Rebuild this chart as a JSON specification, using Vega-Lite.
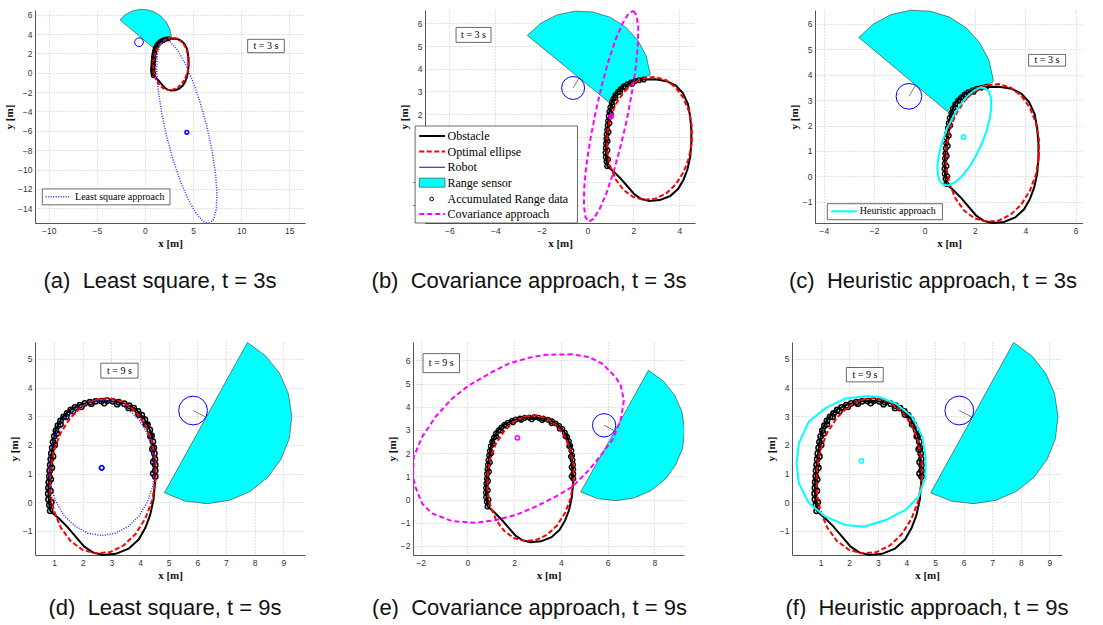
{
"$schema": "https://vega.github.io/schema/vega-lite/v6.json",
"padding": {"left": 3, "top": 8, "right": 0, "bottom": 0},
"background": "white",
"config": {
 "view": {"stroke": null},
 "axis": {"labelFont": "Liberation Sans", "labelFontSize": 8.5, "labelColor": "#333333", "titleFont": "Liberation Serif", "titleFontSize": 11, "titleFontWeight": "bold", "titleColor": "#111111", "grid": true, "gridColor": "#c4c4c4", "gridDash": [1, 2], "gridWidth": 1, "domainColor": "#555555", "ticks": false, "labelPadding": 3, "titlePadding": 3},
 "title": {"orient": "bottom", "font": "Liberation Sans", "fontSize": 22, "fontWeight": "normal", "color": "#111111", "offset": 22, "anchor": "middle"}
},
"datasets": {
 "obs": [{"i":0,"x":0.85,"y":-0.28},{"i":1,"x":0.80,"y":0.20},{"i":2,"x":0.80,"y":0.60},{"i":3,"x":0.84,"y":1.10},{"i":4,"x":0.90,"y":1.60},{"i":5,"x":0.96,"y":2.10},{"i":6,"x":1.06,"y":2.55},{"i":7,"x":1.25,"y":2.92},{"i":8,"x":1.55,"y":3.22},{"i":9,"x":1.95,"y":3.42},{"i":10,"x":2.45,"y":3.52},{"i":11,"x":2.95,"y":3.53},{"i":12,"x":3.45,"y":3.45},{"i":13,"x":3.85,"y":3.25},{"i":14,"x":4.15,"y":2.92},{"i":15,"x":4.37,"y":2.45},{"i":16,"x":4.47,"y":1.90},{"i":17,"x":4.52,"y":1.30},{"i":18,"x":4.52,"y":0.70},{"i":19,"x":4.47,"y":0.10},{"i":20,"x":4.35,"y":-0.45},{"i":21,"x":4.18,"y":-0.90},{"i":22,"x":3.95,"y":-1.30},{"i":23,"x":3.60,"y":-1.62},{"i":24,"x":3.15,"y":-1.80},{"i":25,"x":2.70,"y":-1.84},{"i":26,"x":2.35,"y":-1.75},{"i":27,"x":2.05,"y":-1.55},{"i":28,"x":1.75,"y":-1.20},{"i":29,"x":1.45,"y":-0.85},{"i":30,"x":1.15,"y":-0.55},{"i":31,"x":0.95,"y":-0.38},{"i":32,"x":0.85,"y":-0.28}],
 "opt": [{"i":0,"x":4.54,"y":0.76},{"i":1,"x":4.54,"y":1.47},{"i":2,"x":4.41,"y":2.14},{"i":3,"x":4.17,"y":2.72},{"i":4,"x":3.83,"y":3.18},{"i":5,"x":3.41,"y":3.50},{"i":6,"x":2.94,"y":3.63},{"i":7,"x":2.45,"y":3.58},{"i":8,"x":1.98,"y":3.35},{"i":9,"x":1.57,"y":2.95},{"i":10,"x":1.22,"y":2.41},{"i":11,"x":0.98,"y":1.78},{"i":12,"x":0.86,"y":1.08},{"i":13,"x":0.86,"y":0.37},{"i":14,"x":0.99,"y":-0.30},{"i":15,"x":1.23,"y":-0.88},{"i":16,"x":1.57,"y":-1.35},{"i":17,"x":1.99,"y":-1.66},{"i":18,"x":2.46,"y":-1.79},{"i":19,"x":2.95,"y":-1.74},{"i":20,"x":3.42,"y":-1.51},{"i":21,"x":3.84,"y":-1.11},{"i":22,"x":4.18,"y":-0.57},{"i":23,"x":4.42,"y":0.06},{"i":24,"x":4.54,"y":0.76}],
 "acc": [{"t":3,"x":0.86,"y":-0.30},{"t":3,"x":0.83,"y":-0.10},{"t":3,"x":0.80,"y":0.10},{"t":3,"x":0.79,"y":0.30},{"t":3,"x":0.80,"y":0.50},{"t":3,"x":0.81,"y":0.70},{"t":3,"x":0.83,"y":0.90},{"t":3,"x":0.84,"y":1.10},{"t":3,"x":0.86,"y":1.30},{"t":3,"x":0.88,"y":1.50},{"t":3,"x":0.90,"y":1.70},{"t":3,"x":0.93,"y":1.90},{"t":3,"x":0.96,"y":2.10},{"t":3,"x":1.00,"y":2.30},{"t":3,"x":1.06,"y":2.50},{"t":3,"x":1.13,"y":2.67},{"t":3,"x":1.22,"y":2.84},{"t":3,"x":1.33,"y":2.98},{"t":3,"x":1.45,"y":3.10},{"t":3,"x":1.58,"y":3.22},{"t":3,"x":1.73,"y":3.31},{"t":3,"x":1.90,"y":3.39},{"t":3,"x":2.07,"y":3.45},{"t":3,"x":2.25,"y":3.49},{"t":3,"x":2.45,"y":3.52},
  {"t":3,"x":0.90,"y":0.00},{"t":3,"x":0.87,"y":0.40},{"t":3,"x":0.88,"y":0.80},{"t":3,"x":0.92,"y":1.20},{"t":3,"x":0.96,"y":1.60},{"t":3,"x":1.02,"y":2.00},{"t":3,"x":1.09,"y":2.40},{"t":3,"x":1.22,"y":2.72},{"t":3,"x":1.42,"y":2.98},{"t":3,"x":1.66,"y":3.18},{"t":3,"x":1.95,"y":3.33},
  {"t":9,"x":2.65,"y":3.53},{"t":9,"x":2.85,"y":3.54},{"t":9,"x":3.05,"y":3.52},{"t":9,"x":3.25,"y":3.49},{"t":9,"x":3.45,"y":3.44},{"t":9,"x":3.62,"y":3.37},{"t":9,"x":3.78,"y":3.28},{"t":9,"x":3.93,"y":3.17},{"t":9,"x":4.06,"y":3.04},{"t":9,"x":4.17,"y":2.88},{"t":9,"x":4.26,"y":2.71},{"t":9,"x":4.34,"y":2.52},{"t":9,"x":4.40,"y":2.32},{"t":9,"x":4.45,"y":2.11},{"t":9,"x":4.48,"y":1.90},{"t":9,"x":4.50,"y":1.70},{"t":9,"x":4.52,"y":1.50},{"t":9,"x":4.53,"y":1.30},{"t":9,"x":4.53,"y":1.10},{"t":9,"x":4.53,"y":0.90},
  {"t":9,"x":2.30,"y":3.44},{"t":9,"x":2.75,"y":3.46},{"t":9,"x":3.20,"y":3.42},{"t":9,"x":3.60,"y":3.29},{"t":9,"x":3.95,"y":3.06},{"t":9,"x":4.20,"y":2.72},{"t":9,"x":4.36,"y":2.30},{"t":9,"x":4.43,"y":1.85},{"t":9,"x":4.46,"y":1.40},{"t":9,"x":4.46,"y":1.00}],
 "sens3": [{"i":0,"x":-2.61,"y":5.47},{"i":1,"x":-2.03,"y":6.00},{"i":2,"x":-1.33,"y":6.37},{"i":3,"x":-0.55,"y":6.54},{"i":4,"x":0.24,"y":6.50},{"i":5,"x":0.99,"y":6.27},{"i":6,"x":1.66,"y":5.84},{"i":7,"x":2.19,"y":5.26},{"i":8,"x":2.56,"y":4.56},{"i":9,"x":2.73,"y":3.78},{"i":10,"x":2.70,"y":3.70},{"i":11,"x":2.20,"y":3.55},{"i":12,"x":1.60,"y":3.25},{"i":13,"x":1.20,"y":2.90},{"i":14,"x":0.90,"y":2.55},{"i":15,"x":-2.61,"y":5.47}],
 "sens9": [{"i":0,"x":4.85,"y":0.33},{"i":1,"x":7.75,"y":5.57},{"i":2,"x":8.38,"y":5.11},{"i":3,"x":8.87,"y":4.50},{"i":4,"x":9.18,"y":3.78},{"i":5,"x":9.30,"y":3.00},{"i":6,"x":9.21,"y":2.22},{"i":7,"x":8.92,"y":1.50},{"i":8,"x":8.46,"y":0.87},{"i":9,"x":7.85,"y":0.38},{"i":10,"x":7.13,"y":0.07},{"i":11,"x":6.35,"y":-0.05},{"i":12,"x":5.57,"y":0.04},{"i":13,"x":4.85,"y":0.33}],
 "appr": [
  {"p":"a","i":0,"x":6.69,"y":-15.57},{"p":"a","i":1,"x":7.15,"y":-15.11},{"p":"a","i":2,"x":7.42,"y":-14.04},{"p":"a","i":3,"x":7.48,"y":-12.43},{"p":"a","i":4,"x":7.33,"y":-10.39},{"p":"a","i":5,"x":6.97,"y":-8.05},{"p":"a","i":6,"x":6.44,"y":-5.58},{"p":"a","i":7,"x":5.76,"y":-3.15},{"p":"a","i":8,"x":4.99,"y":-0.92},{"p":"a","i":9,"x":4.17,"y":0.96},{"p":"a","i":10,"x":3.37,"y":2.36},{"p":"a","i":11,"x":2.63,"y":3.18},{"p":"a","i":12,"x":2.01,"y":3.37},{"p":"a","i":13,"x":1.55,"y":2.91},{"p":"a","i":14,"x":1.28,"y":1.84},{"p":"a","i":15,"x":1.22,"y":0.23},{"p":"a","i":16,"x":1.37,"y":-1.81},{"p":"a","i":17,"x":1.73,"y":-4.15},{"p":"a","i":18,"x":2.26,"y":-6.62},{"p":"a","i":19,"x":2.94,"y":-9.05},{"p":"a","i":20,"x":3.71,"y":-11.28},{"p":"a","i":21,"x":4.53,"y":-13.16},{"p":"a","i":22,"x":5.33,"y":-14.56},{"p":"a","i":23,"x":6.07,"y":-15.38},{"p":"a","i":24,"x":6.69,"y":-15.57},
  {"p":"b","i":0,"x":2.00,"y":6.55},{"p":"b","i":1,"x":2.14,"y":6.36},{"p":"b","i":2,"x":2.21,"y":5.86},{"p":"b","i":3,"x":2.20,"y":5.09},{"p":"b","i":4,"x":2.11,"y":4.10},{"p":"b","i":5,"x":1.94,"y":2.97},{"p":"b","i":6,"x":1.72,"y":1.76},{"p":"b","i":7,"x":1.44,"y":0.56},{"p":"b","i":8,"x":1.14,"y":-0.55},{"p":"b","i":9,"x":0.83,"y":-1.49},{"p":"b","i":10,"x":0.53,"y":-2.20},{"p":"b","i":11,"x":0.27,"y":-2.63},{"p":"b","i":12,"x":0.06,"y":-2.75},{"p":"b","i":13,"x":-0.08,"y":-2.56},{"p":"b","i":14,"x":-0.15,"y":-2.06},{"p":"b","i":15,"x":-0.14,"y":-1.29},{"p":"b","i":16,"x":-0.05,"y":-0.30},{"p":"b","i":17,"x":0.12,"y":0.83},{"p":"b","i":18,"x":0.35,"y":2.04},{"p":"b","i":19,"x":0.62,"y":3.24},{"p":"b","i":20,"x":0.92,"y":4.35},{"p":"b","i":21,"x":1.23,"y":5.29},{"p":"b","i":22,"x":1.53,"y":6.00},{"p":"b","i":23,"x":1.79,"y":6.43},{"p":"b","i":24,"x":2.00,"y":6.55},
  {"p":"c","i":0,"x":2.40,"y":3.48},{"p":"c","i":1,"x":2.55,"y":3.34},{"p":"c","i":2,"x":2.64,"y":3.08},{"p":"c","i":3,"x":2.65,"y":2.71},{"p":"c","i":4,"x":2.59,"y":2.27},{"p":"c","i":5,"x":2.46,"y":1.78},{"p":"c","i":6,"x":2.27,"y":1.27},{"p":"c","i":7,"x":2.03,"y":0.79},{"p":"c","i":8,"x":1.77,"y":0.36},{"p":"c","i":9,"x":1.49,"y":0.01},{"p":"c","i":10,"x":1.22,"y":-0.23},{"p":"c","i":11,"x":0.97,"y":-0.35},{"p":"c","i":12,"x":0.76,"y":-0.34},{"p":"c","i":13,"x":0.61,"y":-0.20},{"p":"c","i":14,"x":0.53,"y":0.06},{"p":"c","i":15,"x":0.51,"y":0.43},{"p":"c","i":16,"x":0.57,"y":0.87},{"p":"c","i":17,"x":0.70,"y":1.36},{"p":"c","i":18,"x":0.89,"y":1.87},{"p":"c","i":19,"x":1.13,"y":2.35},{"p":"c","i":20,"x":1.39,"y":2.78},{"p":"c","i":21,"x":1.67,"y":3.13},{"p":"c","i":22,"x":1.95,"y":3.37},{"p":"c","i":23,"x":2.19,"y":3.49},{"p":"c","i":24,"x":2.40,"y":3.48},
  {"p":"d","i":0,"x":4.51,"y":1.20},{"p":"d","i":1,"x":4.45,"y":1.81},{"p":"d","i":2,"x":4.26,"y":2.38},{"p":"d","i":3,"x":3.97,"y":2.87},{"p":"d","i":4,"x":3.59,"y":3.24},{"p":"d","i":5,"x":3.14,"y":3.48},{"p":"d","i":6,"x":2.66,"y":3.56},{"p":"d","i":7,"x":2.18,"y":3.48},{"p":"d","i":8,"x":1.74,"y":3.24},{"p":"d","i":9,"x":1.35,"y":2.87},{"p":"d","i":10,"x":1.06,"y":2.38},{"p":"d","i":11,"x":0.87,"y":1.81},{"p":"d","i":12,"x":0.81,"y":1.20},{"p":"d","i":13,"x":0.87,"y":0.59},{"p":"d","i":14,"x":1.06,"y":0.02},{"p":"d","i":15,"x":1.35,"y":-0.47},{"p":"d","i":16,"x":1.74,"y":-0.84},{"p":"d","i":17,"x":2.18,"y":-1.08},{"p":"d","i":18,"x":2.66,"y":-1.16},{"p":"d","i":19,"x":3.14,"y":-1.08},{"p":"d","i":20,"x":3.59,"y":-0.84},{"p":"d","i":21,"x":3.97,"y":-0.47},{"p":"d","i":22,"x":4.26,"y":0.02},{"p":"d","i":23,"x":4.45,"y":0.59},{"p":"d","i":24,"x":4.51,"y":1.20},
  {"p":"e","i":0,"x":4.49,"y":6.26},{"p":"e","i":1,"x":3.34,"y":6.24},{"p":"e","i":2,"x":2.63,"y":6.11},{"p":"e","i":3,"x":1.77,"y":5.86},{"p":"e","i":4,"x":1.06,"y":5.50},{"p":"e","i":5,"x":0.06,"y":4.92},{"p":"e","i":6,"x":-0.66,"y":4.35},{"p":"e","i":7,"x":-1.37,"y":3.56},{"p":"e","i":8,"x":-1.94,"y":2.70},{"p":"e","i":9,"x":-2.30,"y":1.84},{"p":"e","i":10,"x":-2.33,"y":0.98},{"p":"e","i":11,"x":-2.23,"y":0.55},{"p":"e","i":12,"x":-1.94,"y":-0.17},{"p":"e","i":13,"x":-1.51,"y":-0.60},{"p":"e","i":14,"x":-0.66,"y":-0.93},{"p":"e","i":15,"x":0.34,"y":-1.00},{"p":"e","i":16,"x":1.20,"y":-0.89},{"p":"e","i":17,"x":2.06,"y":-0.67},{"p":"e","i":18,"x":2.91,"y":-0.31},{"p":"e","i":19,"x":3.77,"y":0.12},{"p":"e","i":20,"x":4.49,"y":0.55},{"p":"e","i":21,"x":5.20,"y":1.27},{"p":"e","i":22,"x":5.77,"y":1.98},{"p":"e","i":23,"x":6.20,"y":2.56},{"p":"e","i":24,"x":6.56,"y":3.42},{"p":"e","i":25,"x":6.70,"y":4.28},{"p":"e","i":26,"x":6.56,"y":4.92},{"p":"e","i":27,"x":6.34,"y":5.28},{"p":"e","i":28,"x":5.77,"y":5.86},{"p":"e","i":29,"x":5.20,"y":6.14},{"p":"e","i":30,"x":4.49,"y":6.26},
  {"p":"f","i":0,"x":2.57,"y":3.70},{"p":"f","i":1,"x":1.87,"y":3.62},{"p":"f","i":2,"x":1.17,"y":3.28},{"p":"f","i":3,"x":0.59,"y":2.81},{"p":"f","i":4,"x":0.24,"y":2.06},{"p":"f","i":5,"x":0.16,"y":1.36},{"p":"f","i":6,"x":0.24,"y":0.66},{"p":"f","i":7,"x":0.59,"y":-0.03},{"p":"f","i":8,"x":1.17,"y":-0.50},{"p":"f","i":9,"x":1.87,"y":-0.79},{"p":"f","i":10,"x":2.51,"y":-0.85},{"p":"f","i":11,"x":3.27,"y":-0.62},{"p":"f","i":12,"x":3.97,"y":-0.27},{"p":"f","i":13,"x":4.43,"y":0.20},{"p":"f","i":14,"x":4.67,"y":0.89},{"p":"f","i":15,"x":4.67,"y":1.59},{"p":"f","i":16,"x":4.55,"y":2.29},{"p":"f","i":17,"x":4.20,"y":2.98},{"p":"f","i":18,"x":3.62,"y":3.45},{"p":"f","i":19,"x":3.04,"y":3.68},{"p":"f","i":20,"x":2.57,"y":3.70}
 ]
},
"vconcat": [
 {"hconcat": [
  {"width": 270, "height": 213,
   "title": {"text": "(a)\u00a0 Least square, t = 3s", "dx": -10},
   "encoding": {
    "x": {"field": "x", "type": "quantitative", "scale": {"domain": [-11.43, 16.63], "nice": false, "zero": false}, "axis": {"values": [-10, -5, 0, 5, 10, 15], "title": "x [m]"}},
    "y": {"field": "y", "type": "quantitative", "scale": {"domain": [-15.52, 6.48], "nice": false, "zero": false}, "axis": {"values": [-14, -12, -10, -8, -6, -4, -2, 0, 2, 4, 6], "title": "y [m]"}}
   },
   "layer": [
    {"data": {"name": "sens3"}, "mark": {"type": "line", "fill": "#00FFFF", "stroke": "#333333", "strokeWidth": 0.6}, "encoding": {"order": {"field": "i", "type": "quantitative"}}},
    {"data": {"name": "obs"}, "mark": {"type": "line", "color": "#000000", "strokeWidth": 2}, "encoding": {"order": {"field": "i", "type": "quantitative"}}},
    {"data": {"name": "acc"}, "transform": [{"filter": "datum.t <= 3"}], "mark": {"type": "point", "shape": "circle", "filled": false, "color": "#000000", "size": 14, "strokeWidth": 1.2, "opacity": 1}},
    {"data": {"name": "opt"}, "mark": {"type": "line", "color": "#FF0000", "strokeWidth": 2, "strokeDash": [4, 2]}, "encoding": {"order": {"field": "i", "type": "quantitative"}}},
    {"data": {"name": "appr"}, "transform": [{"filter": "datum.p == 'a'"}], "mark": {"type": "line", "color": "#3030FF", "strokeWidth": 1.5, "strokeDash": [1, 1.5], "clip": true}, "encoding": {"order": {"field": "i", "type": "quantitative"}}},
    {"data": {"values": [{"x": 4.35, "y": -6.15}]}, "mark": {"type": "point", "shape": "circle", "filled": false, "color": "#0000FF", "size": 14, "strokeWidth": 1.5, "opacity": 1}},
    {"data": {"values": [{"x": -0.62, "y": 3.15}]}, "mark": {"type": "point", "shape": "circle", "filled": false, "color": "#0000FF", "size": 75, "strokeWidth": 1, "opacity": 1}},
    {"data": {"values": [{"x": 10.67, "xe": 14.48, "y": 2.07, "ye": 3.45}]}, "mark": {"type": "rect", "fill": "white", "stroke": "#444444", "strokeWidth": 0.8}, "encoding": {"x2": {"field": "xe"}, "y2": {"field": "ye"}}},
    {"data": {"values": [{"x": 12.57, "y": 2.76, "label": "t = 3 s"}]}, "mark": {"type": "text", "font": "Liberation Serif", "fontSize": 10, "color": "#000000"}, "encoding": {"text": {"field": "label"}}},
    {"data": {"values": [{"x": -10.67, "xe": 2.6, "y": -12.0, "ye": -13.64}]}, "mark": {"type": "rect", "fill": "white", "stroke": "#444444", "strokeWidth": 0.8}, "encoding": {"x2": {"field": "xe"}, "y2": {"field": "ye"}}},
    {"data": {"values": [{"x": -10.32, "xe": -7.72, "y": -12.81}]}, "mark": {"type": "rule", "color": "#3030FF", "strokeWidth": 1.5, "strokeDash": [1, 1.5]}, "encoding": {"x2": {"field": "xe"}}},
    {"data": {"values": [{"x": -7.27, "y": -12.81, "label": "Least square approach"}]}, "mark": {"type": "text", "font": "Liberation Serif", "fontSize": 10, "align": "left", "color": "#000000"}, "encoding": {"text": {"field": "label"}}}
   ]
  },
  {"width": 270, "height": 213,
   "title": {"text": "(b)\u00a0 Covariance approach, t = 3s", "dx": -31},
   "encoding": {
    "x": {"field": "x", "type": "quantitative", "scale": {"domain": [-7.06, 4.68], "nice": false, "zero": false}, "axis": {"values": [-6, -4, -2, 0, 2, 4], "title": "x [m]"}},
    "y": {"field": "y", "type": "quantitative", "scale": {"domain": [-2.81, 6.59], "nice": false, "zero": false}, "axis": {"values": [-2, -1, 0, 1, 2, 3, 4, 5, 6], "title": "y [m]"}}
   },
   "layer": [
    {"data": {"name": "sens3"}, "mark": {"type": "line", "fill": "#00FFFF", "stroke": "#333333", "strokeWidth": 0.6}, "encoding": {"order": {"field": "i", "type": "quantitative"}}},
    {"data": {"name": "obs"}, "mark": {"type": "line", "color": "#000000", "strokeWidth": 2}, "encoding": {"order": {"field": "i", "type": "quantitative"}}},
    {"data": {"name": "acc"}, "transform": [{"filter": "datum.t <= 3"}], "mark": {"type": "point", "shape": "circle", "filled": false, "color": "#000000", "size": 22, "strokeWidth": 1.4, "opacity": 1}},
    {"data": {"name": "opt"}, "mark": {"type": "line", "color": "#FF0000", "strokeWidth": 2, "strokeDash": [5, 2.5]}, "encoding": {"order": {"field": "i", "type": "quantitative"}}},
    {"data": {"name": "appr"}, "transform": [{"filter": "datum.p == 'b'"}], "mark": {"type": "line", "color": "#FF00FF", "strokeWidth": 2, "strokeDash": [5, 3], "clip": true}, "encoding": {"order": {"field": "i", "type": "quantitative"}}},
    {"data": {"values": [{"x": 1.03, "y": 1.88}]}, "mark": {"type": "point", "shape": "circle", "filled": false, "color": "#FF00FF", "size": 18, "strokeWidth": 1.5, "opacity": 1}},
    {"data": {"values": [{"x": -0.62, "y": 3.15}]}, "mark": {"type": "point", "shape": "circle", "filled": false, "color": "#0000FF", "size": 530, "strokeWidth": 1, "opacity": 1}},
    {"data": {"values": [{"x": -0.62, "y": 3.15, "xe": -0.35, "ye": 3.6}]}, "mark": {"type": "rule", "color": "#555555", "strokeWidth": 0.8}, "encoding": {"x2": {"field": "xe"}, "y2": {"field": "ye"}}},
    {"data": {"values": [{"x": -5.71, "xe": -4.19, "y": 5.16, "ye": 5.82}]}, "mark": {"type": "rect", "fill": "white", "stroke": "#444444", "strokeWidth": 0.8}, "encoding": {"x2": {"field": "xe"}, "y2": {"field": "ye"}}},
    {"data": {"values": [{"x": -4.95, "y": 5.49, "label": "t = 3 s"}]}, "mark": {"type": "text", "font": "Liberation Serif", "fontSize": 10, "color": "#000000"}, "encoding": {"text": {"field": "label"}}},
    {"data": {"values": [{"x": -7.49, "xe": -0.43, "y": -2.81, "ye": 1.47}]}, "mark": {"type": "rect", "fill": "white", "stroke": "#444444", "strokeWidth": 0.8, "clip": false}, "encoding": {"x2": {"field": "xe"}, "y2": {"field": "ye"}}},
    {"data": {"values": [{"x": -7.31, "xe": -6.19, "y": 1.03}]}, "mark": {"type": "rule", "color": "#000000", "strokeWidth": 2}, "encoding": {"x2": {"field": "xe"}}},
    {"data": {"values": [{"x": -7.31, "xe": -6.19, "y": 0.34}]}, "mark": {"type": "rule", "color": "#FF0000", "strokeWidth": 2, "strokeDash": [5, 2.5]}, "encoding": {"x2": {"field": "xe"}}},
    {"data": {"values": [{"x": -7.31, "xe": -6.19, "y": -0.35}]}, "mark": {"type": "rule", "color": "#0000FF", "strokeWidth": 1}, "encoding": {"x2": {"field": "xe"}}},
    {"data": {"values": [{"x": -7.31, "xe": -6.19, "y": -1.23, "ye": -0.83}]}, "mark": {"type": "rect", "fill": "#00FFFF", "stroke": "#333333", "strokeWidth": 0.6}, "encoding": {"x2": {"field": "xe"}, "y2": {"field": "ye"}}},
    {"data": {"values": [{"x": -6.77, "y": -1.75}]}, "mark": {"type": "point", "shape": "circle", "filled": false, "color": "#000000", "size": 14, "strokeWidth": 1, "opacity": 1}},
    {"data": {"values": [{"x": -7.31, "xe": -6.19, "y": -2.41}]}, "mark": {"type": "rule", "color": "#FF00FF", "strokeWidth": 2, "strokeDash": [5, 3]}, "encoding": {"x2": {"field": "xe"}}},
    {"data": {"values": [{"x": -6.08, "y": 1.03, "label": "Obstacle"}, {"x": -6.08, "y": 0.34, "label": "Optimal ellipse"}, {"x": -6.08, "y": -0.35, "label": "Robot"}, {"x": -6.08, "y": -1.03, "label": "Range sensor"}, {"x": -6.08, "y": -1.75, "label": "Accumulated Range data"}, {"x": -6.08, "y": -2.41, "label": "Covariance approach"}]}, "mark": {"type": "text", "font": "Liberation Serif", "fontSize": 12, "align": "left", "color": "#000000"}, "encoding": {"text": {"field": "label"}}}
   ]
  },
  {"width": 268, "height": 213,
   "title": {"text": "(c)\u00a0 Heuristic approach, t = 3s", "dx": -16},
   "encoding": {
    "x": {"field": "x", "type": "quantitative", "scale": {"domain": [-4.35, 6.29], "nice": false, "zero": false}, "axis": {"values": [-4, -2, 0, 2, 4, 6], "title": "x [m]"}},
    "y": {"field": "y", "type": "quantitative", "scale": {"domain": [-1.84, 6.55], "nice": false, "zero": false}, "axis": {"values": [-1, 0, 1, 2, 3, 4, 5, 6], "title": "y [m]"}}
   },
   "layer": [
    {"data": {"name": "sens3"}, "mark": {"type": "line", "fill": "#00FFFF", "stroke": "#333333", "strokeWidth": 0.6}, "encoding": {"order": {"field": "i", "type": "quantitative"}}},
    {"data": {"name": "obs"}, "mark": {"type": "line", "color": "#000000", "strokeWidth": 2}, "encoding": {"order": {"field": "i", "type": "quantitative"}}},
    {"data": {"name": "acc"}, "transform": [{"filter": "datum.t <= 3"}], "mark": {"type": "point", "shape": "circle", "filled": false, "color": "#000000", "size": 22, "strokeWidth": 1.4, "opacity": 1}},
    {"data": {"name": "opt"}, "mark": {"type": "line", "color": "#FF0000", "strokeWidth": 2, "strokeDash": [5, 2.5]}, "encoding": {"order": {"field": "i", "type": "quantitative"}}},
    {"data": {"name": "appr"}, "transform": [{"filter": "datum.p == 'c'"}], "mark": {"type": "line", "color": "#00FFFF", "strokeWidth": 2, "clip": true}, "encoding": {"order": {"field": "i", "type": "quantitative"}}},
    {"data": {"values": [{"x": 1.55, "y": 1.55}]}, "mark": {"type": "point", "shape": "circle", "filled": false, "color": "#00FFFF", "size": 18, "strokeWidth": 1.5, "opacity": 1}},
    {"data": {"values": [{"x": -0.62, "y": 3.15}]}, "mark": {"type": "point", "shape": "circle", "filled": false, "color": "#0000FF", "size": 660, "strokeWidth": 1, "opacity": 1}},
    {"data": {"values": [{"x": -0.62, "y": 3.15, "xe": -0.35, "ye": 3.6}]}, "mark": {"type": "rule", "color": "#555555", "strokeWidth": 0.8}, "encoding": {"x2": {"field": "xe"}, "y2": {"field": "ye"}}},
    {"data": {"values": [{"x": 4.13, "xe": 5.6, "y": 4.34, "ye": 4.8}]}, "mark": {"type": "rect", "fill": "white", "stroke": "#444444", "strokeWidth": 0.8}, "encoding": {"x2": {"field": "xe"}, "y2": {"field": "ye"}}},
    {"data": {"values": [{"x": 4.86, "y": 4.57, "label": "t = 3 s"}]}, "mark": {"type": "text", "font": "Liberation Serif", "fontSize": 10, "color": "#000000"}, "encoding": {"text": {"field": "label"}}},
    {"data": {"values": [{"x": -3.86, "xe": 0.71, "y": -1.71, "ye": -1.08}]}, "mark": {"type": "rect", "fill": "white", "stroke": "#444444", "strokeWidth": 0.8}, "encoding": {"x2": {"field": "xe"}, "y2": {"field": "ye"}}},
    {"data": {"values": [{"x": -3.71, "xe": -2.68, "y": -1.38}]}, "mark": {"type": "rule", "color": "#00FFFF", "strokeWidth": 2}, "encoding": {"x2": {"field": "xe"}}},
    {"data": {"values": [{"x": -2.57, "y": -1.38, "label": "Heuristic approach"}]}, "mark": {"type": "text", "font": "Liberation Serif", "fontSize": 10, "align": "left", "color": "#000000"}, "encoding": {"text": {"field": "label"}}}
   ]
  }
 ], "spacing": 120, "bounds": "flush"},
 {"hconcat": [
  {"width": 270, "height": 213,
   "title": {"text": "(d)\u00a0 Least square, t = 9s", "dx": -5, "offset": 17},
   "encoding": {
    "x": {"field": "x", "type": "quantitative", "scale": {"domain": [0.33, 9.76], "nice": false, "zero": false}, "axis": {"values": [1, 2, 3, 4, 5, 6, 7, 8, 9], "title": "x [m]"}},
    "y": {"field": "y", "type": "quantitative", "scale": {"domain": [-1.84, 5.59], "nice": false, "zero": false}, "axis": {"values": [-1, 0, 1, 2, 3, 4, 5], "title": "y [m]"}}
   },
   "layer": [
    {"data": {"name": "sens9"}, "mark": {"type": "line", "fill": "#00FFFF", "stroke": "#333333", "strokeWidth": 0.6, "clip": true}, "encoding": {"order": {"field": "i", "type": "quantitative"}}},
    {"data": {"name": "obs"}, "mark": {"type": "line", "color": "#000000", "strokeWidth": 2}, "encoding": {"order": {"field": "i", "type": "quantitative"}}},
    {"data": {"name": "acc"}, "mark": {"type": "point", "shape": "circle", "filled": false, "color": "#000000", "size": 28, "strokeWidth": 1.5, "opacity": 1}},
    {"data": {"name": "opt"}, "mark": {"type": "line", "color": "#FF0000", "strokeWidth": 2, "strokeDash": [5, 2.5]}, "encoding": {"order": {"field": "i", "type": "quantitative"}}},
    {"data": {"name": "appr"}, "transform": [{"filter": "datum.p == 'd'"}], "mark": {"type": "line", "color": "#3030FF", "strokeWidth": 1.5, "strokeDash": [1, 1.5], "clip": true}, "encoding": {"order": {"field": "i", "type": "quantitative"}}},
    {"data": {"values": [{"x": 2.66, "y": 1.2}]}, "mark": {"type": "point", "shape": "circle", "filled": false, "color": "#0000FF", "size": 20, "strokeWidth": 1.8, "opacity": 1}},
    {"data": {"values": [{"x": 5.85, "y": 3.2}]}, "mark": {"type": "point", "shape": "circle", "filled": false, "color": "#0000FF", "size": 830, "strokeWidth": 1, "opacity": 1}},
    {"data": {"values": [{"x": 5.85, "y": 3.2, "xe": 6.3, "ye": 2.97}]}, "mark": {"type": "rule", "color": "#555555", "strokeWidth": 0.8}, "encoding": {"x2": {"field": "xe"}, "y2": {"field": "ye"}}},
    {"data": {"values": [{"x": 2.63, "xe": 3.93, "y": 4.33, "ye": 4.85}]}, "mark": {"type": "rect", "fill": "white", "stroke": "#444444", "strokeWidth": 0.8}, "encoding": {"x2": {"field": "xe"}, "y2": {"field": "ye"}}},
    {"data": {"values": [{"x": 3.28, "y": 4.59, "label": "t = 9 s"}]}, "mark": {"type": "text", "font": "Liberation Serif", "fontSize": 10, "color": "#000000"}, "encoding": {"text": {"field": "label"}}}
   ]
  },
  {"width": 271, "height": 213,
   "title": {"text": "(e)\u00a0 Covariance approach, t = 9s", "dx": -19, "offset": 17},
   "encoding": {
    "x": {"field": "x", "type": "quantitative", "scale": {"domain": [-2.33, 9.27], "nice": false, "zero": false}, "axis": {"values": [-2, 0, 2, 4, 6, 8], "title": "x [m]"}},
    "y": {"field": "y", "type": "quantitative", "scale": {"domain": [-2.39, 6.79], "nice": false, "zero": false}, "axis": {"values": [-2, -1, 0, 1, 2, 3, 4, 5, 6], "title": "y [m]"}}
   },
   "layer": [
    {"data": {"name": "sens9"}, "mark": {"type": "line", "fill": "#00FFFF", "stroke": "#333333", "strokeWidth": 0.6, "clip": true}, "encoding": {"order": {"field": "i", "type": "quantitative"}}},
    {"data": {"name": "obs"}, "mark": {"type": "line", "color": "#000000", "strokeWidth": 2}, "encoding": {"order": {"field": "i", "type": "quantitative"}}},
    {"data": {"name": "acc"}, "mark": {"type": "point", "shape": "circle", "filled": false, "color": "#000000", "size": 22, "strokeWidth": 1.4, "opacity": 1}},
    {"data": {"name": "opt"}, "mark": {"type": "line", "color": "#FF0000", "strokeWidth": 2, "strokeDash": [5, 2.5]}, "encoding": {"order": {"field": "i", "type": "quantitative"}}},
    {"data": {"name": "appr"}, "transform": [{"filter": "datum.p == 'e'"}], "mark": {"type": "line", "color": "#FF00FF", "strokeWidth": 2, "strokeDash": [5, 3], "clip": true}, "encoding": {"order": {"field": "i", "type": "quantitative"}}},
    {"data": {"values": [{"x": 2.14, "y": 2.66}]}, "mark": {"type": "point", "shape": "circle", "filled": false, "color": "#FF00FF", "size": 18, "strokeWidth": 1.5, "opacity": 1}},
    {"data": {"values": [{"x": 5.85, "y": 3.2}]}, "mark": {"type": "point", "shape": "circle", "filled": false, "color": "#0000FF", "size": 545, "strokeWidth": 1, "opacity": 1}},
    {"data": {"values": [{"x": 5.85, "y": 3.2, "xe": 6.3, "ye": 2.97}]}, "mark": {"type": "rule", "color": "#555555", "strokeWidth": 0.8}, "encoding": {"x2": {"field": "xe"}, "y2": {"field": "ye"}}},
    {"data": {"values": [{"x": -1.9, "xe": -0.34, "y": 5.47, "ye": 6.29}]}, "mark": {"type": "rect", "fill": "white", "stroke": "#444444", "strokeWidth": 0.8}, "encoding": {"x2": {"field": "xe"}, "y2": {"field": "ye"}}},
    {"data": {"values": [{"x": -1.12, "y": 5.88, "label": "t = 9 s"}]}, "mark": {"type": "text", "font": "Liberation Serif", "fontSize": 10, "color": "#000000"}, "encoding": {"text": {"field": "label"}}}
   ]
  },
  {"width": 270, "height": 213,
   "title": {"text": "(f)\u00a0 Heuristic approach, t = 9s", "dx": 0, "offset": 17},
   "encoding": {
    "x": {"field": "x", "type": "quantitative", "scale": {"domain": [0.0, 9.44], "nice": false, "zero": false}, "axis": {"values": [1, 2, 3, 4, 5, 6, 7, 8, 9], "title": "x [m]"}},
    "y": {"field": "y", "type": "quantitative", "scale": {"domain": [-1.84, 5.59], "nice": false, "zero": false}, "axis": {"values": [-1, 0, 1, 2, 3, 4, 5], "title": "y [m]"}}
   },
   "layer": [
    {"data": {"name": "sens9"}, "mark": {"type": "line", "fill": "#00FFFF", "stroke": "#333333", "strokeWidth": 0.6, "clip": true}, "encoding": {"order": {"field": "i", "type": "quantitative"}}},
    {"data": {"name": "obs"}, "mark": {"type": "line", "color": "#000000", "strokeWidth": 2}, "encoding": {"order": {"field": "i", "type": "quantitative"}}},
    {"data": {"name": "acc"}, "mark": {"type": "point", "shape": "circle", "filled": false, "color": "#000000", "size": 28, "strokeWidth": 1.5, "opacity": 1}},
    {"data": {"name": "opt"}, "mark": {"type": "line", "color": "#FF0000", "strokeWidth": 2, "strokeDash": [5, 2.5]}, "encoding": {"order": {"field": "i", "type": "quantitative"}}},
    {"data": {"name": "appr"}, "transform": [{"filter": "datum.p == 'f'"}], "mark": {"type": "line", "color": "#00FFFF", "strokeWidth": 2, "clip": true}, "encoding": {"order": {"field": "i", "type": "quantitative"}}},
    {"data": {"values": [{"x": 2.43, "y": 1.44}]}, "mark": {"type": "point", "shape": "circle", "filled": false, "color": "#00FFFF", "size": 18, "strokeWidth": 1.5, "opacity": 1}},
    {"data": {"values": [{"x": 5.85, "y": 3.2}]}, "mark": {"type": "point", "shape": "circle", "filled": false, "color": "#0000FF", "size": 830, "strokeWidth": 1, "opacity": 1}},
    {"data": {"values": [{"x": 5.85, "y": 3.2, "xe": 6.3, "ye": 2.97}]}, "mark": {"type": "rule", "color": "#555555", "strokeWidth": 0.8}, "encoding": {"x2": {"field": "xe"}, "y2": {"field": "ye"}}},
    {"data": {"values": [{"x": 1.9, "xe": 3.19, "y": 4.2, "ye": 4.7}]}, "mark": {"type": "rect", "fill": "white", "stroke": "#444444", "strokeWidth": 0.8}, "encoding": {"x2": {"field": "xe"}, "y2": {"field": "ye"}}},
    {"data": {"values": [{"x": 2.55, "y": 4.45, "label": "t = 9 s"}]}, "mark": {"type": "text", "font": "Liberation Serif", "fontSize": 10, "color": "#000000"}, "encoding": {"text": {"field": "label"}}}
   ]
  }
 ], "spacing": 108, "bounds": "flush"}
],
"spacing": 332,
"bounds": "flush"
}
